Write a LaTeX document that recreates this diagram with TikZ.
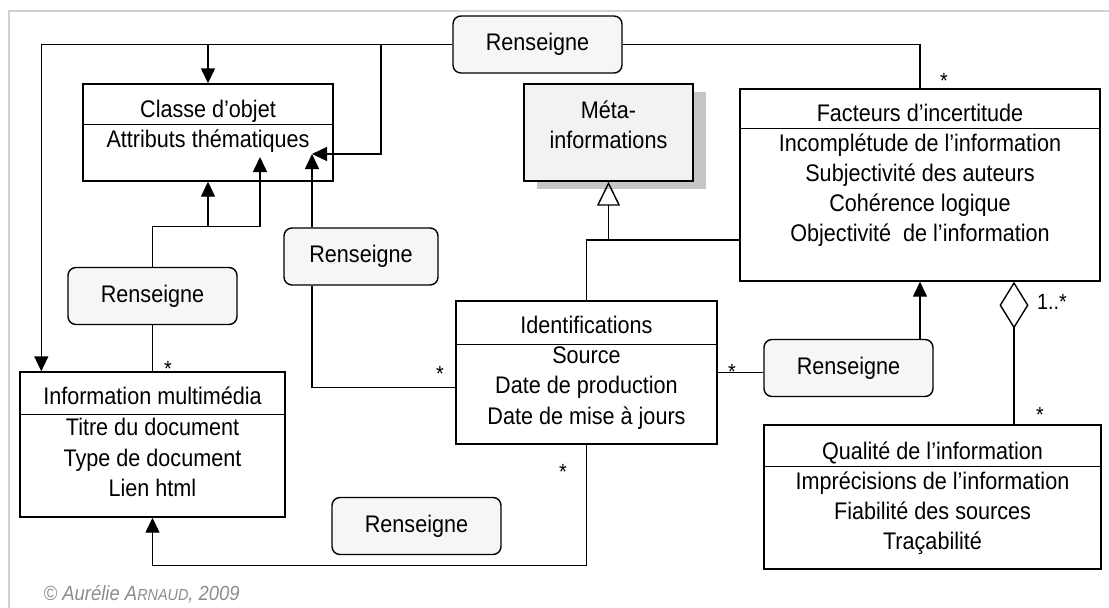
\documentclass[tikz,border=0pt]{standalone}
\usepackage{fontspec}
\setmainfont{Liberation Sans}[FakeStretch=0.9]
\usetikzlibrary{arrows.meta,positioning,shadows}

\begin{document}
\begin{tikzpicture}[
  x=1pt, y=-1pt,
  line width=1.4pt,
  >={Triangle[length=15pt,width=14pt]},
  every node/.style={font=\fontsize{24}{30}\selectfont, inner sep=0pt},
  cls/.style={draw, rectangle, fill=white},
  metabox/.style={draw, fill=gray!10, drop shadow={shadow xshift=13pt, shadow yshift=-8pt, opacity=1, fill=gray!45}},
  txt/.style={text height=17pt, text depth=5pt},
  rel/.style={draw, rounded corners=8pt, fill=gray!7, minimum width=169pt, minimum height=57pt, text height=17pt, text depth=5pt},
  mult/.style={font=\fontsize{22}{22}\selectfont},
  gen/.style={-{Triangle[open,length=24pt,width=23pt]}},
  aggr/.style={-{Diamond[open,length=47pt,width=29pt]}}
]
\useasboundingbox (0,0) rectangle (1109,608);
\draw[gray!35, line width=2pt] (1109,11) -- (9,11) -- (9,608);

% classes
\node[cls, minimum width=250pt, minimum height=97pt] (classe) at (208,132.5) {};
\node[cls, minimum width=360pt, minimum height=192pt] (fact) at (920,185) {};
\node[cls, minimum width=261pt, minimum height=143pt] (iden) at (586.5,372.5) {};
\node[cls, minimum width=265pt, minimum height=145pt] (info) at (152.5,444.5) {};
\node[cls, minimum width=337pt, minimum height=144pt] (qual) at (932.5,497) {};
\node[metabox, minimum width=169pt, minimum height=97pt] (meta) at (608.5,132.5) {};
\foreach \b/\d in {classe/41, fact/40, iden/44, info/43, qual/42}
  \draw ([yshift=-\d pt]\b.north west) -- ([yshift=-\d pt]\b.north east);

\node[txt] (classe-t) at (208,111) {Classe d’objet};
\node[txt] (classe-a) at (208,141) {Attributs thématiques};
\node[txt] (meta-t) at (608.5,112) {Méta-};
\node[txt] (meta-a) at (608.5,142) {informations};
\node[txt] (fact-t) at (920,115) {Facteurs d’incertitude};
\foreach \t [count=\i] in {Incomplétude de l’information, Subjectivité des auteurs, Cohérence logique, Objectivité~ de l’information}
  \node[txt] (fact-\i) at (920,{115+30*\i}) {\t};
\node[txt] (iden-t) at (586.5,327) {Identifications};
\foreach \t [count=\i] in {Source, Date de production, Date de mise à jours}
  \node[txt] (iden-\i) at (586.5,{326.5+30.5*\i}) {\t};
\node[txt] (info-t) at (152.5,398) {Information multimédia};
\foreach \t [count=\i] in {Titre du document, Type de document, Lien html}
  \node[txt] (info-\i) at (152.5,{399+30.5*\i}) {\t};
\node[txt] (qual-t) at (932.5,453) {Qualité de l’information};
\foreach \t [count=\i] in {Imprécisions de l’information, Fiabilité des sources, Traçabilité}
  \node[txt] (qual-\i) at (932.5,{453+30*\i}) {\t};

% associations
\node[rel] (rTop) at (537.5,44.5) {Renseigne};
\node[rel] (rLeft) at (152.5,296) {Renseigne};
\node[rel, minimum width=154pt] (rMid) at (361,256.5) {Renseigne};
\node[rel] (rRight) at (848.5,368) {Renseigne};
\node[rel] (rBot) at (416.5,526) {Renseigne};
\coordinate (hitA) at (312,154);
\coordinate (hitB) at (260,157);

\draw[->] (rTop.west) -| ([xshift=22pt]info.north west);
\draw[->] (rTop.west) -| (classe.north);
\draw[->] (rTop.west) -| ([xshift=69pt]hitA) -- (hitA);
\draw (rTop.east) -| (fact.north);
\draw[->] (rLeft.north) |- ([yshift=-45pt]classe.south) -- (classe.south);
\draw[->] ([yshift=-45pt]classe.south) -| (hitB);
\draw (rLeft.south) -- (info.north);
\draw[->] (rMid.north -| hitA) -- (hitA);
\draw (rMid.south -| hitA) |- ([yshift=-15pt]iden.west);
\draw (iden.east) -- (iden.east -| rRight.west);
\draw[->] (rRight.north -| fact.south) -- (fact.south);
\draw (iden.north) |- ([yshift=-55pt]fact.west);
\draw[gen] ([yshift=-59pt]meta.south) -- (meta.south);
\draw[aggr] ([xshift=81.5pt]qual.north) -- ([xshift=81.5pt]qual.north |- fact.south);
\draw[->] (iden.south) |- ([yshift=-48pt]info.south) -- (info.south);

% multiplicities
\node[mult] (m-fact) at (944,81) {*};
\node[mult] (m-info) at (168,369) {*};
\node[mult] (m-idl) at (440,374) {*};
\node[mult] (m-idr) at (732,372) {*};
\node[mult] (m-idb) at (563,472) {*};
\node[mult] (m-qual) at (1040,415) {*};
\node[mult] (m-agg) at (1052,302) {1..*};

\node[anchor=west, text=gray!90, font=\fontsize{20.5}{20.5}\selectfont\itshape] (copy) at (43,594) {© Aurélie A{\fontsize{16}{16}\selectfont RNAUD}, 2009};
\end{tikzpicture}
\end{document}
